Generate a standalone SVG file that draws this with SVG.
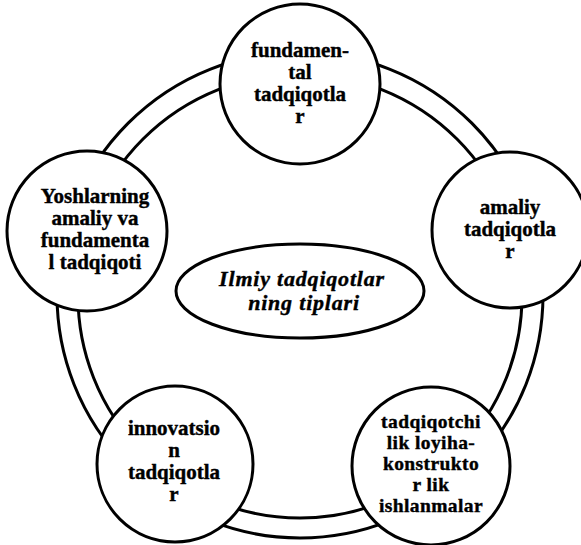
<svg xmlns="http://www.w3.org/2000/svg" width="581" height="545" viewBox="0 0 581 545">
<style>
.ring{fill:none;stroke:#000;stroke-width:3}
.node{fill:#fff;stroke:#000;stroke-width:3}
.t{font-family:"Liberation Serif","Times New Roman",serif;font-weight:bold;font-size:21px;fill:#000;stroke:#000;stroke-width:0.4;text-anchor:middle}
.s{font-size:19.5px;letter-spacing:0.4px}
.c{font-style:italic;font-size:22px;letter-spacing:0.8px}
</style>
<rect width="581" height="545" fill="#fff"/>
<g id="connectors">
<circle class="ring" cx="300" cy="295" r="243"/>
<circle class="ring" cx="300" cy="296" r="222"/>
</g>
<g id="center">
<ellipse class="node" cx="300" cy="291" rx="124" ry="47"/>
<text class="t c" x="302" y="286">Ilmiy tadqiqotlar</text>
<text class="t c" x="304" y="310">ning tiplari</text>
</g>
<g id="n-fundamental">
<circle class="node" cx="300" cy="84" r="80"/>
<text class="t" x="300" y="57">fundamen-</text>
<text class="t" x="300" y="79">tal</text>
<text class="t" x="300" y="101">tadqiqotla</text>
<text class="t" x="300" y="123">r</text>
</g>
<g id="n-yoshlar">
<circle class="node" cx="87" cy="231" r="80"/>
<text class="t" x="95" y="203">Yoshlarning</text>
<text class="t" x="95" y="225">amaliy va</text>
<text class="t" x="95" y="247">fundamenta</text>
<text class="t" x="95" y="269">l tadqiqoti</text>
</g>
<g id="n-amaliy">
<circle class="node" cx="510" cy="230" r="78"/>
<text class="t" x="510" y="214">amaliy</text>
<text class="t" x="510" y="236">tadqiqotla</text>
<text class="t" x="510" y="258">r</text>
</g>
<g id="n-innovatsion">
<circle class="node" cx="175" cy="464" r="78"/>
<text class="t" x="174" y="435">innovatsio</text>
<text class="t" x="174" y="457">n</text>
<text class="t" x="174" y="479">tadqiqotla</text>
<text class="t" x="174" y="501">r</text>
</g>
<g id="n-tadqiqotchilik">
<circle class="node" cx="431" cy="466" r="79"/>
<text class="t s" x="431" y="428">tadqiqotchi</text>
<text class="t s" x="431" y="449">lik loyiha-</text>
<text class="t s" x="431" y="470">konstrukto</text>
<text class="t s" x="431" y="491">r lik</text>
<text class="t s" x="431" y="512">ishlanmalar</text>
</g>
</svg>
